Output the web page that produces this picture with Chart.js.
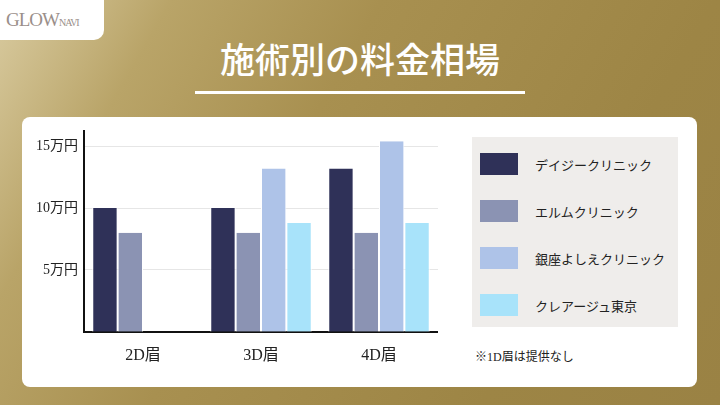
<!DOCTYPE html>
<html><head><meta charset="utf-8">
<script src="https://cdn.jsdelivr.net/npm/chart.js@4"></script>
<style>
body{margin:0;width:720px;height:405px;overflow:hidden;font-family:"Liberation Serif","Noto Sans CJK JP",serif;
background:linear-gradient(120deg,#d9cba0 0%,#b9a468 18%,#a89050 40%,#9d8545 75%,#9a8244 100%);position:relative}
#logo{position:absolute;left:0;top:0;width:104px;height:40px;background:#fff;border-radius:0 0 10px 0;color:#9a8f8a;font-size:19px;line-height:40px;padding-left:6px;box-sizing:border-box;letter-spacing:-1px}
#title{position:absolute;left:0;width:720px;top:32px;text-align:center;color:#fff;font-size:35px;font-family:"Noto Sans CJK JP";font-weight:500}
#uline{position:absolute;left:195px;width:330px;top:91px;height:3px;background:#fff}
#card{position:absolute;left:22px;top:117px;width:675px;height:270px;background:#fff;border-radius:8px}
#cv{position:absolute;left:20px;top:117px;width:418px;height:270px}
#leg{position:absolute;left:472px;top:137px;width:206px;height:190px;background:#efedeb}
.it{position:absolute;left:8px;height:24px;display:flex;align-items:center;font-size:13px;color:#222;font-family:"Noto Sans CJK JP"}
.sw{width:38px;height:22px;margin-right:17px}
#note{position:absolute;left:475px;top:347px;font-size:12px;color:#222;font-family:"Liberation Serif","Noto Sans CJK JP"}
</style></head><body>
<div id="logo">GLOW<span style="font-size:10px">NAVI</span></div>
<div id="title">施術別の料金相場</div><div id="uline"></div>
<div id="card"></div>
<div id="cv"><canvas id="c"></canvas></div>
<div id="leg"></div>
<div id="note">※1D眉は提供なし</div>
<script>
const categories=["2D眉","3D眉","4D眉"];
const clinics=["デイジークリニック","エルムクリニック","銀座よしえクリニック","クレアージュ東京"];
const daisy=[10,10,13.2];
const elm=[8,8,8];
const ginza=[null,13.2,15.4];
const claire=[null,8.8,8.8];
const tickValues=[5,10,15];
const tickLabels=["5万円","10万円","15万円"];
const colors=["#2f3158","#8b93b3","#aec3e8","#a8e3fa"];
const series=[daisy,elm,ginza,claire];
const leg=document.getElementById('leg');
clinics.forEach((n,i)=>{const d=document.createElement('div');d.className='it';d.style.top=(15+i*47)+'px';
d.innerHTML='<div class="sw" style="background:'+colors[i]+'"></div>'+n;leg.appendChild(d);});
new Chart(document.getElementById('c'),{type:'bar',
data:{labels:categories,datasets:series.map((s,i)=>({label:clinics[i],data:s,backgroundColor:colors[i],borderColor:'#fff',borderWidth:{left:1,right:1}}))},
options:{responsive:true,maintainAspectRatio:false,animation:false,
layout:{padding:{top:4,right:0,left:10,bottom:8}},
plugins:{legend:{display:false},tooltip:{enabled:false}},
datasets:{bar:{categoryPercentage:0.86,barPercentage:1}},
scales:{
x:{grid:{display:false,drawTicks:false},border:{color:'#111',width:2},
 ticks:{color:'#222',padding:14,font:{size:16,family:'"Liberation Serif","Noto Sans CJK JP"'}}},
y:{min:0,max:16.2,border:{color:'#111',width:2},grid:{color:'#e6e6e6',drawTicks:false},
 afterBuildTicks:a=>{a.ticks=tickValues.map(v=>({value:v}));},
 ticks:{color:'#222',padding:6,font:{size:14,family:'"Liberation Serif","Noto Sans CJK JP"'},
 callback:v=>tickLabels[tickValues.indexOf(v)]}}}}});
</script></body></html>
